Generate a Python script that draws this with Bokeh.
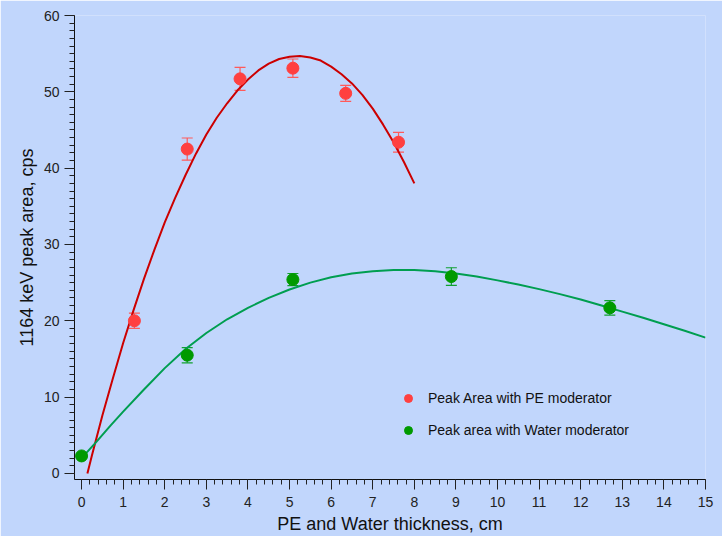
from bokeh.plotting import figure
from bokeh.models import (Range1d, ColumnDataSource, Whisker, TeeHead, Legend,
                          LegendItem, SingleIntervalTicker)
from bokeh.embed import file_html
from bokeh.resources import INLINE

# ---- data ----
pe_x = [1.27, 2.54, 3.81, 5.08, 6.35, 7.62]
pe_y = [20.0, 42.5, 51.7, 53.1, 49.8, 43.4]
pe_err = [1.0, 1.45, 1.5, 1.2, 1.05, 1.3]

w_x = [0.0, 2.54, 5.08, 8.89, 12.7]
w_y = [2.3, 15.5, 25.4, 25.8, 21.7]
w_err = [0.3, 1.0, 0.8, 1.15, 0.95]

pe_fit_x = [0.14, 0.25, 0.5, 0.75, 1.0, 1.25, 1.5, 1.75, 2.0, 2.25, 2.5, 2.75,
            3.0, 3.25, 3.5, 3.75, 4.0, 4.25, 4.5, 4.75, 5.0, 5.25, 5.5, 5.75,
            6.0, 6.25, 6.5, 6.75, 7.0, 7.25, 7.5, 7.75, 8.0]
pe_fit_y = [0.0, 2.4, 7.6, 12.4, 17.1, 21.4, 25.5, 29.3, 32.9, 36.1, 39.1,
            41.9, 44.4, 46.6, 48.5, 50.2, 51.6, 52.8, 53.7, 54.3, 54.6, 54.7,
            54.5, 54.1, 53.3, 52.3, 51.1, 49.6, 47.8, 45.7, 43.4, 40.8, 38.0]

w_fit_x = [0.05, 0.35, 0.7, 1.0, 1.5, 2.0, 2.5, 3.0, 3.5, 4.0, 4.5, 5.0, 5.5,
           6.0, 6.5, 7.0, 7.5, 8.0, 8.5, 9.0, 9.5, 10.0, 10.5, 11.0, 11.5,
           12.0, 12.5, 13.0, 13.5, 14.0, 14.5, 15.0]
w_fit_y = [2.3, 4.1, 6.3, 8.1, 11.0, 13.8, 16.3, 18.4, 20.2, 21.7, 23.0, 24.1,
           25.0, 25.7, 26.2, 26.5, 26.65, 26.65, 26.5, 26.2, 25.8, 25.3, 24.75,
           24.15, 23.5, 22.8, 22.0, 21.2, 20.4, 19.55, 18.7, 17.8]

pe_label = "Peak Area with PE moderator"
w_label = "Peak area with Water moderator"
x_title = "PE and Water thickness, cm"
y_title = "1164 keV peak area, cps"

# ---- styles ----
BG = "#c1d6fc"
RED_PT = "#ff4040"
RED_ERR = "#ff5a5a"
RED_LINE = "#cc0000"
GRN_PT = "#009a00"
GRN_ERR = "#10a030"
GRN_LINE = "#009e50"
FONT = "Liberation Sans"

p = figure(width=722, height=536, output_backend="svg", toolbar_location=None,
           x_range=Range1d(-0.17, 15), y_range=Range1d(-0.79, 60),
           min_border_left=74, min_border_right=17, min_border_top=15,
           min_border_bottom=57)
p.background_fill_color = BG
p.border_fill_color = BG
p.outline_line_color = None
p.xgrid.visible = False
p.ygrid.visible = False

pe_src = ColumnDataSource(dict(x=pe_x, y=pe_y,
                               lo=[a - b for a, b in zip(pe_y, pe_err)],
                               hi=[a + b for a, b in zip(pe_y, pe_err)]))
w_src = ColumnDataSource(dict(x=w_x, y=w_y,
                              lo=[a - b for a, b in zip(w_y, w_err)],
                              hi=[a + b for a, b in zip(w_y, w_err)]))

for src, col in ((pe_src, RED_ERR), (w_src, GRN_ERR)):
    p.add_layout(Whisker(source=src, base="x", upper="hi", lower="lo",
                         line_color=col, line_width=1.2,
                         upper_head=TeeHead(size=11, line_color=col, line_width=1.2),
                         lower_head=TeeHead(size=11, line_color=col, line_width=1.2)))

p.line(pe_fit_x, pe_fit_y, line_color=RED_LINE, line_width=2)
p.line(w_fit_x, w_fit_y, line_color=GRN_LINE, line_width=2)

r_pe = p.scatter("x", "y", source=pe_src, size=12, fill_color=RED_PT,
                 line_color=RED_PT)
r_w = p.scatter("x", "y", source=w_src, size=12, fill_color=GRN_PT,
                line_color=GRN_PT)

# ---- axes ----
p.xaxis.ticker = SingleIntervalTicker(interval=1, num_minor_ticks=5)
p.yaxis.ticker = SingleIntervalTicker(interval=10, num_minor_ticks=10)
for ax in (p.xaxis[0], p.yaxis[0]):
    ax.axis_line_color = "#111111"
    ax.major_tick_line_color = "#222222"
    ax.minor_tick_line_color = "#222222"
    ax.major_tick_in = 0
    ax.major_tick_out = 10
    ax.minor_tick_in = 0
    ax.minor_tick_out = 5
    ax.major_label_text_font = FONT
    ax.major_label_text_font_size = "14px"
    ax.major_label_text_color = "#222222"
    ax.axis_label_text_font = FONT
    ax.axis_label_text_font_size = "18px"
    ax.axis_label_text_font_style = "normal"
    ax.axis_label_text_color = "#111111"
p.xaxis.axis_label = x_title
p.yaxis.axis_label = y_title
p.xaxis.major_label_standoff = 7
p.xaxis.axis_label_standoff = 4
p.yaxis.major_label_standoff = 5
p.yaxis.axis_label_standoff = 4

legend = Legend(items=[LegendItem(label=pe_label, renderers=[r_pe]),
                       LegendItem(label=w_label, renderers=[r_w])],
                location=(324, 39), background_fill_alpha=0,
                border_line_color=None, label_text_font=FONT,
                label_text_font_size="14px", label_text_color="#111111",
                glyph_width=20, glyph_height=20, label_height=20,
                spacing=12, padding=10, margin=0, label_standoff=10)
p.add_layout(legend)

open("out.html", "w").write(file_html(p, INLINE))
